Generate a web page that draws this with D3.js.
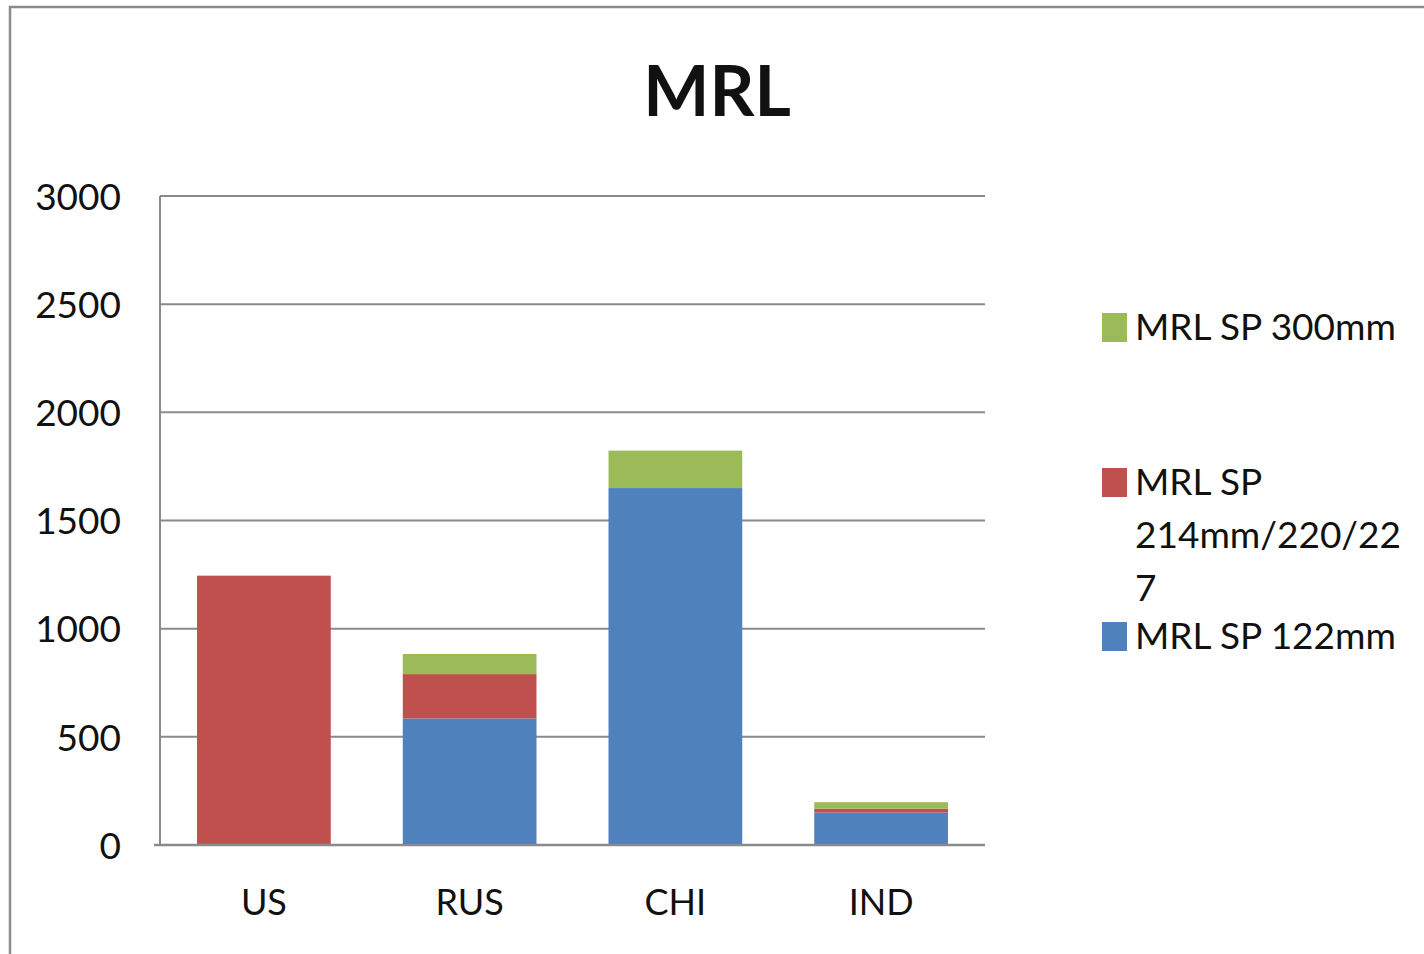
<!DOCTYPE html>
<html>
<head>
<meta charset="utf-8">
<script src="https://cdn.jsdelivr.net/npm/d3@7"></script>
<style>
  html, body { margin: 0; padding: 0; background: #fff; }
  svg { display: block; }
  text { font-family: Lato, "Open Sans", sans-serif; fill: #111; }
</style>
</head>
<body>
<script>
const categories = ["US", "RUS", "CHI", "IND"];
const seriesNames = ["MRL SP 122mm", "MRL SP 214mm/220/227", "MRL SP 300mm"];
const mrl122 = [0, 585, 1650, 150];
const mrl214 = [1245, 205, 0, 18];
const mrl300 = [0, 93, 173, 30];
const seriesColors = ["#4F81BD", "#C0504D", "#9BBB59"];
const yTicks = [0, 500, 1000, 1500, 2000, 2500, 3000];
// legend text lines (wrapped as in the original)
const legendLines = [["MRL SP 300mm"], ["MRL SP", "214mm/220/22", "7"], ["MRL SP 122mm"]];

(function () {
const W = 1424, H = 954;
const svg = d3.select("body").append("svg").attr("width", W).attr("height", H);

// outer chart border
svg.append("rect").attr("x", 10).attr("y", 7).attr("width", W + 20).attr("height", H + 20)
  .attr("fill", "none").attr("stroke", "#8c8c8c").attr("stroke-width", 2.5);

const pL = 160, pR = 985, pT = 196, pB = 845;
const x = d3.scaleBand().domain(categories).range([pL, pR]).paddingInner(0.35).paddingOuter(0.18);
const y = d3.scaleLinear().domain([0, 3000]).range([pB, pT]);

// gridlines
svg.append("g").selectAll("line").data(yTicks).join("line")
  .attr("x1", pL).attr("x2", pR)
  .attr("y1", d => y(d)).attr("y2", d => y(d))
  .attr("stroke", "#8a8a8a").attr("stroke-width", 2);

// stacked data
const table = categories.map((c, i) => ({ cat: c, a: mrl122[i], b: mrl214[i], c: mrl300[i] }));
const stack = d3.stack().keys(["a", "b", "c"]);
const layers = stack(table);

svg.append("g").selectAll("g").data(layers).join("g")
  .attr("fill", (d, i) => seriesColors[i])
  .selectAll("rect").data(d => d).join("rect")
  .attr("x", d => x(d.data.cat))
  .attr("width", x.bandwidth())
  .attr("y", d => y(d[1]))
  .attr("height", d => Math.max(0, y(d[0]) - y(d[1])));

// axes lines
svg.append("line").attr("x1", pL).attr("x2", pL).attr("y1", pT).attr("y2", pB + 1)
  .attr("stroke", "#8a8a8a").attr("stroke-width", 2);
svg.append("line").attr("x1", pL - 6).attr("x2", pR).attr("y1", pB).attr("y2", pB)
  .attr("stroke", "#8a8a8a").attr("stroke-width", 2.5);

// y tick labels
const yAxis = d3.axisLeft(y).tickValues(yTicks).tickFormat(d3.format("d")).tickSize(0).tickPadding(39);
const gy = svg.append("g").attr("transform", `translate(${pL},0)`).call(yAxis);
gy.select(".domain").remove();
gy.selectAll("text").attr("font-family", "Lato, sans-serif").attr("font-size", 37)
  .attr("fill", "#111").attr("dy", "0.36em");

// x labels
const xAxis = d3.axisBottom(x).tickSize(0).tickPadding(44);
const gx = svg.append("g").attr("transform", `translate(0,${pB})`).call(xAxis);
gx.select(".domain").remove();
gx.selectAll("text").attr("font-family", "Lato, sans-serif").attr("font-size", 36)
  .attr("fill", "#111");

// title
svg.append("text").attr("x", 717).attr("y", 116).attr("text-anchor", "middle")
  .attr("font-size", 70).attr("font-weight", "bold").attr("fill", "#000").text("MRL");

// legend
const legendTop = [313, 468, 622];
const legendColorIdx = [2, 1, 0];
const lg = svg.append("g");
legendLines.forEach((lines, k) => {
  lg.append("rect").attr("x", 1102).attr("y", legendTop[k]).attr("width", 25).attr("height", 29)
    .attr("fill", seriesColors[legendColorIdx[k]]);
  const t = lg.append("text").attr("x", 1135).attr("y", legendTop[k] + 27).attr("font-size", 37);
  lines.forEach((ln, j) => {
    t.append("tspan").attr("x", 1135).attr("dy", j === 0 ? 0 : 53).text(ln);
  });
});
})();
</script>
</body>
</html>
